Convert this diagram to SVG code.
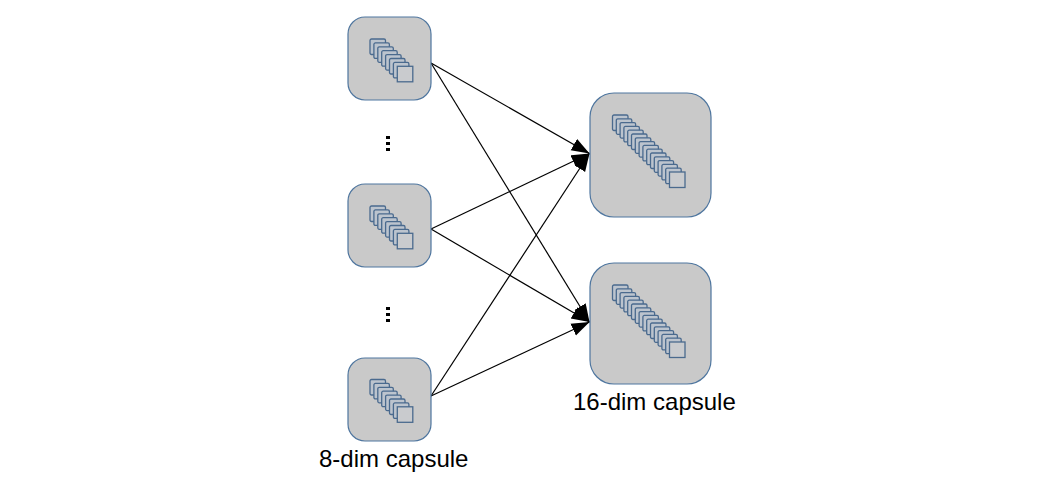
<svg xmlns="http://www.w3.org/2000/svg" xmlns:xlink="http://www.w3.org/1999/xlink" width="1058" height="486" viewBox="0 0 1058 486">
<style>
.box{fill:#c9c9c9;stroke:#4f769f;stroke-width:1.2}
.sq{fill:#bcc4ce;stroke:#4a6a8e;stroke-width:1.3}
.sq.top{fill:#c9cbce}
.conn{fill:none;stroke:#000;stroke-width:1.2;marker-end:url(#arrow)}
.lbl{font-family:"Liberation Sans",Arial,sans-serif;font-size:24px;fill:#000}
.dot{fill:#000}
</style>
<defs>
<marker id="arrow" markerUnits="userSpaceOnUse" markerWidth="20" markerHeight="16" refX="18" refY="7" orient="auto">
<path d="M0 0.5L18 7L0 13.5Z" fill="#000"/>
</marker>
<rect id="s" class="sq" width="15.5" height="15.5" rx="1.5"/>
<g id="stack8">
<use xlink:href="#s" x="0" y="0"/><use xlink:href="#s" x="3.9" y="3.9"/><use xlink:href="#s" x="7.8" y="7.8"/><use xlink:href="#s" x="11.7" y="11.7"/><use xlink:href="#s" x="15.6" y="15.6"/><use xlink:href="#s" x="19.5" y="19.5"/><use xlink:href="#s" x="23.4" y="23.4"/>
<rect class="sq top" x="27.3" y="27.3" width="15.5" height="15.5"/>
</g>
<g id="stack16">
<use xlink:href="#s" x="0" y="0"/><use xlink:href="#s" x="3.8" y="3.8"/><use xlink:href="#s" x="7.6" y="7.6"/><use xlink:href="#s" x="11.4" y="11.4"/><use xlink:href="#s" x="15.2" y="15.2"/><use xlink:href="#s" x="19" y="19"/><use xlink:href="#s" x="22.8" y="22.8"/><use xlink:href="#s" x="26.6" y="26.6"/><use xlink:href="#s" x="30.4" y="30.4"/><use xlink:href="#s" x="34.2" y="34.2"/><use xlink:href="#s" x="38" y="38"/><use xlink:href="#s" x="41.8" y="41.8"/><use xlink:href="#s" x="45.6" y="45.6"/><use xlink:href="#s" x="49.4" y="49.4"/><use xlink:href="#s" x="53.2" y="53.2"/>
<rect class="sq top" x="57" y="57" width="15.5" height="15.5"/>
</g>
</defs>
<rect width="1058" height="486" fill="#fff"/>
<g id="connectors">
<line class="conn" x1="431" y1="63" x2="589.5" y2="153.5"/>
<line class="conn" x1="431" y1="63" x2="589.5" y2="322"/>
<line class="conn" x1="431" y1="229" x2="589.5" y2="153.5"/>
<line class="conn" x1="431" y1="229" x2="589.5" y2="322"/>
<line class="conn" x1="431" y1="396" x2="589.5" y2="153.5"/>
<line class="conn" x1="431" y1="396" x2="589.5" y2="322"/>
</g>
<g id="node-a"><rect class="box" x="348" y="17" width="83" height="83" rx="17"/><use xlink:href="#stack8" x="370" y="39"/></g>
<g id="node-b"><rect class="box" x="348" y="184" width="83" height="83" rx="17"/><use xlink:href="#stack8" x="370" y="206"/></g>
<g id="node-c"><rect class="box" x="348" y="358" width="83" height="83" rx="17"/><use xlink:href="#stack8" x="370" y="379.5"/></g>
<g id="node-d"><rect class="box" x="590" y="93" width="121" height="124" rx="24"/><use xlink:href="#stack16" x="612.5" y="115"/></g>
<g id="node-e"><rect class="box" x="590" y="263" width="121" height="121" rx="24"/><use xlink:href="#stack16" x="612.5" y="285"/></g>
<g id="ellipsis-1"><rect class="dot" x="386" y="136" width="4" height="3"/><rect class="dot" x="386" y="142" width="4" height="3"/><rect class="dot" x="386" y="148" width="4" height="3"/></g>
<g id="ellipsis-2"><rect class="dot" x="386" y="307" width="4" height="3"/><rect class="dot" x="386" y="313" width="4" height="3"/><rect class="dot" x="386" y="319" width="4" height="3"/></g>
<text class="lbl" x="319" y="467">8-dim capsule</text>
<text class="lbl" x="573" y="410">16-dim capsule</text>
</svg>
